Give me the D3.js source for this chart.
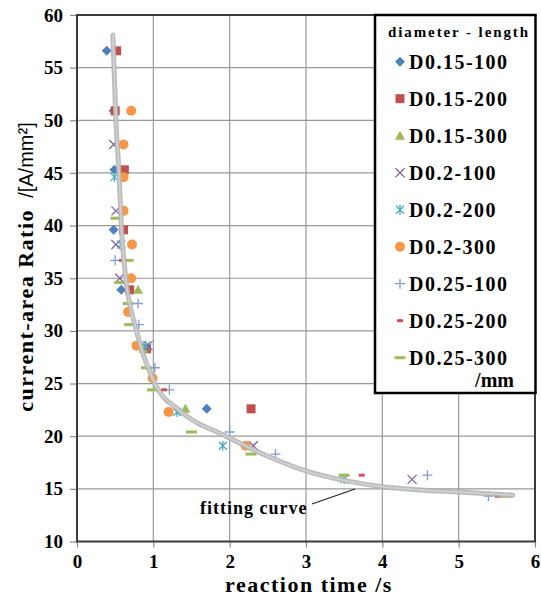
<!DOCTYPE html>
<html>
<head>
<meta charset="utf-8">
<script src="https://cdn.jsdelivr.net/npm/d3@7"></script>
<style>
  body { margin: 0; background: #fff; }
  svg { display: block; }
  .tick text { font-family: "Liberation Serif", serif; font-weight: bold; font-size: 19px; fill: #000; }
  .tick line { stroke: #888; stroke-width: 1.2; }
</style>
</head>
<body>
<svg width="541" height="598"></svg>
<script>
// tick values
const xTicks = [0, 1, 2, 3, 4, 5, 6];
const yTicks = [10, 15, 20, 25, 30, 35, 40, 45, 50, 55, 60];

// series names (legend order)
const seriesNames = ["D0.15-100", "D0.15-200", "D0.15-300", "D0.2-100", "D0.2-200",
                     "D0.2-300", "D0.25-100", "D0.25-200", "D0.25-300"];

// [reaction time /s, current-area ratio]
const d015_100 = [[0.39, 56.6], [0.48, 50.9], [0.49, 45.3], [0.48, 39.6], [0.58, 33.9], [0.89, 28.3], [1.70, 22.6]];
const d015_200 = [[0.52, 56.6], [0.50, 50.9], [0.62, 45.3], [0.61, 39.6], [0.69, 33.9], [0.91, 28.3], [2.28, 22.6]];
const d015_300 = [[0.80, 33.9], [0.87, 28.3], [1.42, 22.6]];
const d02_100  = [[0.48, 47.7], [0.51, 41.4], [0.51, 38.2], [0.56, 35.0], [0.93, 28.6], [2.31, 19.1], [4.39, 15.9]];
const d02_200  = [[0.49, 44.6], [0.58, 38.2], [0.90, 28.6], [1.31, 22.3], [1.91, 19.1], [3.50, 15.9]];
const d02_300  = [[0.71, 50.9], [0.61, 47.7], [0.61, 44.6], [0.61, 41.4], [0.72, 38.2], [0.71, 35.0],
                  [0.67, 31.8], [0.78, 28.6], [0.99, 25.5], [1.20, 22.3], [2.21, 19.1]];
const d025_100 = [[0.50, 36.7], [0.80, 32.6], [0.81, 30.6], [1.02, 26.5], [1.21, 24.4], [2.00, 20.4],
                  [2.60, 18.3], [4.59, 16.3], [5.39, 14.3]];
const d025_200 = [[0.59, 36.7], [1.14, 24.4], [3.73, 16.3], [5.51, 14.3]];
const d025_300 = [[0.51, 40.7], [0.67, 36.7], [0.56, 34.6], [0.67, 32.6], [0.69, 30.6], [0.91, 26.5],
                  [0.99, 24.4], [1.50, 20.4], [2.28, 18.3], [3.50, 16.3], [5.62, 14.3]];

// fitting curve
const fitX = [0.47, 0.51, 0.55, 0.58, 0.64, 0.78, 1.02, 1.35, 1.95, 2.5, 3.0, 3.5, 4.0, 4.5, 5.0, 5.71];
const fitY = [58.1, 50, 45, 40, 35, 30, 25, 22.4, 20, 18.1, 16.7, 15.8, 15.2, 14.9, 14.7, 14.4];

const seriesData = [d015_100, d015_200, d015_300, d02_100, d02_200, d02_300, d025_100, d025_200, d025_300];

// marker style per series
const markers = [
  {color: "#4F81BD", path: "M0,-5L5,0L0,5L-5,0Z", fill: true},
  {color: "#C0504D", path: "M-4.5,-4.5H4.5V4.5H-4.5Z", fill: true},
  {color: "#9BBB59", path: "M0,-5L5,4L-5,4Z", fill: true},
  {color: "#8064A2", path: "M-4.5,-4.5L4.5,4.5M4.5,-4.5L-4.5,4.5", fill: false},
  {color: "#4BACC6", path: "M-4,-4L4,4M4,-4L-4,4M0,-5V5", fill: false},
  {color: "#F79646", path: "M5,0A5,5 0 1,1 -5,0A5,5 0 1,1 5,0Z", fill: true},
  {color: "#7F9FD8", path: "M-5,0H5M0,-5V5", fill: false},
  {color: "#D0505A", path: "M-3,-1.5H3V1.5H-3Z", fill: true},
  {color: "#9BBB59", path: "M-5.5,-1.5H5.5V1.5H-5.5Z", fill: true}
];

const svg = d3.select("svg");
const area = {left: 77, top: 15, right: 535, bottom: 541.5};

const x = d3.scaleLinear().domain([0, 6]).range([area.left, area.right]);
const y = d3.scaleLinear().domain([10, 60]).range([area.bottom, area.top]);

// gridlines
svg.append("g").selectAll("line")
  .data(xTicks.slice(1, -1)).join("line")
  .attr("x1", d => x(d)).attr("x2", d => x(d))
  .attr("y1", area.top).attr("y2", area.bottom)
  .attr("stroke", "#999").attr("stroke-width", 1.2);
svg.append("g").selectAll("line")
  .data(yTicks.slice(1, -1)).join("line")
  .attr("x1", area.left).attr("x2", area.right)
  .attr("y1", d => y(d)).attr("y2", d => y(d))
  .attr("stroke", "#999").attr("stroke-width", 1.2);

// axes
const gx = svg.append("g")
  .attr("transform", `translate(0,${area.bottom})`)
  .call(d3.axisBottom(x).tickValues(xTicks).tickSize(6).tickPadding(7.5).tickFormat(d3.format("d")));
gx.select(".domain").remove();

const gy = svg.append("g")
  .attr("transform", `translate(${area.left},0)`)
  .call(d3.axisLeft(y).tickValues(yTicks).tickSize(7).tickPadding(7).tickFormat(d3.format("d")));
gy.select(".domain").remove();

// points
seriesData.forEach((data, i) => {
  const m = markers[i];
  svg.append("g").selectAll("path")
    .data(data).join("path")
    .attr("transform", d => `translate(${x(d[0])},${y(d[1])})`)
    .attr("d", m.path)
    .attr("fill", m.fill ? m.color : "none")
    .attr("stroke", m.color)
    .attr("stroke-width", m.fill ? 0 : 1.3);
});

// fitting curve
const fitLine = d3.line()
  .x((d, i) => x(fitX[i]))
  .y((d, i) => y(fitY[i]))
  .curve(d3.curveMonotoneX);
svg.append("path")
  .attr("d", fitLine(fitX))
  .attr("fill", "none")
  .attr("stroke", "#b4b4b4")
  .attr("stroke-width", 5)
  .attr("stroke-linecap", "round")
  .attr("opacity", 0.9);
svg.append("path")
  .attr("d", fitLine(fitX))
  .attr("fill", "none")
  .attr("stroke", "#cfcfcf")
  .attr("stroke-width", 2)
  .attr("stroke-linecap", "round");

// frame
svg.append("rect")
  .attr("x", area.left).attr("y", area.top)
  .attr("width", area.right - area.left).attr("height", area.bottom - area.top)
  .attr("fill", "none").attr("stroke", "#3a3a3a").attr("stroke-width", 2);

// annotation
svg.append("text")
  .attr("x", 200).attr("y", 514)
  .attr("font-family", "Liberation Serif").attr("font-weight", "bold")
  .attr("font-size", 18).attr("letter-spacing", 1)
  .text("fitting curve");
svg.append("line")
  .attr("x1", 312).attr("y1", 504).attr("x2", 355).attr("y2", 489)
  .attr("stroke", "#222").attr("stroke-width", 1.2);

// axis titles
svg.append("text")
  .attr("x", 309).attr("y", 592)
  .attr("text-anchor", "middle")
  .attr("font-family", "Liberation Serif").attr("font-weight", "bold")
  .attr("font-size", 22).attr("letter-spacing", 1.5)
  .text("reaction time /s");

const yTitle = svg.append("text")
  .attr("transform", "translate(33,267) rotate(-90)")
  .attr("text-anchor", "middle")
  .attr("font-size", 22);
yTitle.append("tspan")
  .attr("font-family", "Liberation Serif").attr("font-weight", "bold")
  .attr("letter-spacing", 1.5)
  .text("current-area Ratio");
yTitle.append("tspan")
  .attr("font-family", "Liberation Sans").attr("font-size", 20)
  .attr("xml:space", "preserve")
  .text("\u00a0\u00a0/[A/mm\u00b2]");

// legend
const lg = svg.append("g");
lg.append("rect")
  .attr("x", 375).attr("y", 15).attr("width", 160.5).attr("height", 378)
  .attr("fill", "#fff").attr("stroke", "#000").attr("stroke-width", 2.5);
lg.append("text")
  .attr("x", 388).attr("y", 37)
  .attr("font-family", "Liberation Serif").attr("font-weight", "bold")
  .attr("font-size", 15).attr("letter-spacing", 1.9)
  .text("diameter - length");

const rows = lg.selectAll("g.row")
  .data(seriesNames).join("g")
  .attr("class", "row")
  .attr("transform", (d, i) => `translate(0,${61.7 + i * 37})`);
rows.append("path")
  .attr("transform", "translate(400,0)")
  .attr("d", (d, i) => markers[i].path)
  .attr("fill", (d, i) => markers[i].fill ? markers[i].color : "none")
  .attr("stroke", (d, i) => markers[i].color)
  .attr("stroke-width", (d, i) => markers[i].fill ? 0 : 1.3);
rows.append("text")
  .attr("x", 409).attr("y", 7)
  .attr("font-family", "Liberation Serif").attr("font-weight", "bold")
  .attr("font-size", 20).attr("letter-spacing", 1.5)
  .text(d => d);
lg.append("text")
  .attr("x", 514).attr("y", 387)
  .attr("text-anchor", "end")
  .attr("font-family", "Liberation Serif").attr("font-weight", "bold")
  .attr("font-size", 20)
  .text("/mm");
</script>
</body>
</html>
